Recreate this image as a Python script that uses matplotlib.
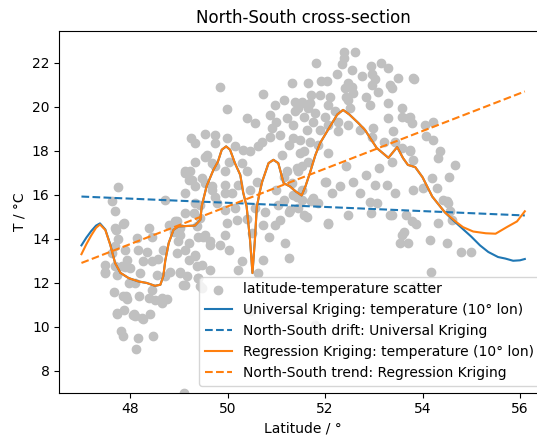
import matplotlib
matplotlib.use("Agg")
import matplotlib.pyplot as plt
import numpy as np

# scatter: (latitude, temperature)
scatter_pts = [
    (47.75, 16.36), (47.62, 15.7), (47.69, 15.27), (47.88, 14.7), (47.71, 14.4),
    (47.76, 13.99), (47.68, 13.65), (47.62, 13.35), (47.49, 12.5), (47.9, 13.5),
    (47.93, 13.05), (47.83, 12.74), (48.0, 12.67), (48.14, 14.03), (48.17, 13.5),
    (48.38, 14.49), (48.45, 14.1), (48.34, 13.42), (48.27, 12.97), (48.45, 12.97),
    (48.58, 13.1), (48.79, 14.64), (48.89, 14.33), (49.03, 14.48), (48.99, 13.88),
    (49.13, 13.5), (48.96, 13.35), (49.2, 13.05), (49.33, 13.2), (49.47, 12.82),
    (49.5, 14.1), (49.64, 13.88), (49.13, 16.99), (49.23, 17.06), (49.2, 16.68),
    (49.33, 16.38), (49.33, 15.62), (49.44, 15.55), (49.3, 15.17), (49.44, 14.94),
    (49.54, 16.53), (49.54, 17.74), (49.68, 17.44), (48.68, 13.5),
    (47.49, 12.44), (47.73, 12.36), (47.97, 11.99), (48.1, 11.99), (48.2, 12.44),
    (48.55, 12.36), (48.72, 12.29), (48.82, 12.51), (49.03, 12.44), (49.16, 12.29),
    (49.13, 11.91), (49.4, 12.21), (49.47, 11.76), (47.66, 11.6), (47.86, 11.38),
    (47.93, 11.26), (48.18, 11.41), (48.38, 11.3), (48.51, 11.2), (48.45, 11.68),
    (48.66, 11.3), (48.75, 11.26), (48.66, 11.08), (47.73, 10.62), (47.88, 10.77),
    (48.07, 10.59), (48.27, 10.35), (48.4, 10.58), (47.81, 9.79), (47.86, 9.59),
    (48.17, 9.49), (48.46, 9.59), (48.12, 8.98), (49.11, 7.0),
    (47.69, 14.5), (47.86, 14.65), (47.49, 12.8), (47.69, 12.75), (47.9, 12.7),
    (47.92, 11.4), (47.73, 10.6), (48.06, 10.55), (48.1, 10.5), (48.24, 10.4),
    (49.85, 20.88), (50.73, 20.58), (51.32, 21.08), (49.98, 19.9), (50.39, 19.49),
    (50.56, 19.26), (50.87, 19.64), (50.97, 20.09), (51.15, 20.32), (51.0, 19.33),
    (51.21, 19.49), (51.35, 19.18), (51.45, 19.94), (51.52, 20.24), (49.25, 18.58),
    (49.33, 18.35), (49.54, 18.76), (49.74, 18.73), (49.74, 18.35), (49.98, 18.58),
    (50.15, 18.2), (50.32, 18.05), (50.46, 17.97), (50.63, 18.2), (50.7, 18.42),
    (50.87, 18.65), (50.91, 19.03), (51.08, 18.73), (51.25, 18.27), (51.35, 18.58),
    (51.49, 17.9), (51.11, 17.82), (49.57, 17.82), (49.33, 17.51), (49.13, 17.06),
    (49.26, 16.68), (49.47, 16.76), (49.74, 17.29), (49.95, 17.06), (50.02, 17.51),
    (50.29, 17.44), (50.39, 17.06), (50.6, 16.6), (50.22, 16.45), (49.95, 16.45),
    (49.68, 16.23), (50.46, 16.23), (51.21, 17.06), (51.42, 17.21), (51.32, 16.53),
    (51.52, 16.23), (49.13, 16.08),
    (52.38, 22.51), (52.62, 22.51), (52.38, 22.21), (51.81, 21.99), (52.34, 21.94),
    (53.15, 21.99), (53.3, 21.76), (52.55, 21.68), (52.94, 21.88), (52.24, 21.49),
    (52.75, 21.38), (52.96, 21.49), (53.03, 21.27), (53.5, 21.3), (53.81, 21.3),
    (51.66, 21.08), (51.92, 21.18), (52.05, 21.18), (52.48, 21.08), (52.41, 20.85),
    (52.55, 20.92), (52.96, 21.0), (53.33, 21.0), (53.37, 20.85), (51.72, 20.55),
    (51.9, 20.55), (52.1, 20.47), (52.44, 20.47), (52.58, 20.62), (52.85, 20.47),
    (53.09, 20.67), (51.38, 20.24), (51.52, 20.17), (51.69, 20.17), (52.07, 20.09),
    (52.48, 20.32), (52.92, 20.09), (53.3, 20.17), (53.57, 19.97), (51.38, 19.79),
    (51.66, 19.94), (51.79, 19.71), (52.0, 19.56), (52.21, 19.79), (52.51, 19.94),
    (51.56, 19.56), (51.76, 19.33), (52.07, 19.18), (52.27, 19.33), (52.48, 19.18),
    (52.72, 18.95), (52.99, 19.03), (53.3, 19.49), (53.57, 19.56), (53.74, 19.56),
    (53.78, 19.26), (53.4, 18.88), (51.62, 18.95), (51.9, 18.95), (52.27, 18.88),
    (51.49, 18.5), (51.69, 18.42), (51.86, 18.27), (52.96, 18.65), (53.2, 18.42),
    (51.56, 17.97), (52.07, 17.9), (53.57, 18.12), (53.74, 17.97),
    (53.83, 21.27), (53.71, 19.49), (54.05, 19.18), (54.22, 19.29), (54.08, 18.68),
    (54.22, 18.5), (54.36, 18.01), (54.32, 17.67), (54.67, 17.36), (54.55, 16.79),
    (54.19, 16.76), (54.29, 16.3), (54.5, 15.73), (53.81, 16.2), (53.74, 18.05),
    (53.81, 17.59), (53.44, 18.42), (53.37, 17.51), (53.11, 17.21), (52.85, 16.91),
    (52.58, 16.6), (52.31, 16.38), (52.02, 16.6), (52.14, 16.08), (52.72, 16.08),
    (53.03, 16.45), (53.27, 16.45), (53.44, 16.08), (52.44, 17.29), (52.92, 15.65),
    (53.06, 15.62), (53.67, 15.09), (53.33, 15.09), (52.48, 15.09), (52.07, 14.71),
    (51.56, 15.09), (51.25, 15.24), (51.72, 15.7), (54.56, 15.27), (54.31, 14.71),
    (51.62, 15.01), (52.07, 14.68), (52.94, 15.17), (53.38, 15.09), (53.78, 14.79),
    (53.86, 14.68), (53.57, 14.18), (53.54, 13.8), (53.71, 13.8), (53.61, 14.33),
    (54.15, 13.95), (54.5, 13.8), (54.78, 13.4), (54.99, 13.4), (54.17, 12.49),
    (54.6, 14.86), (52.0, 16.6), (54.02, 16.3), (54.43, 15.77), (54.53, 15.62),
    (51.76, 15.85), (51.86, 15.62), (51.66, 17.51), (51.52, 17.29), (51.45, 17.06),
    (53.85, 11.9), (54.15, 11.76), (51.79, 10.1), (50.46, 10.7),
    (48.92, 14.79), (49.03, 14.18), (49.2, 13.8), (49.03, 12.51), (49.09, 11.91),
    (49.37, 14.56), (49.4, 14.1), (49.54, 14.18), (49.64, 13.73), (49.33, 13.27),
    (49.37, 12.74), (49.64, 12.59), (49.4, 12.21), (49.44, 11.83), (49.98, 14.71),
    (49.95, 14.18), (50.02, 13.5), (49.85, 13.73), (50.29, 12.97), (50.22, 12.59),
    (50.19, 14.86), (50.5, 14.26), (50.73, 13.05), (50.63, 12.44), (50.84, 14.1),
    (51.18, 13.8), (51.25, 13.12), (50.97, 14.64), (49.95, 15.32), (50.15, 15.39),
    (50.56, 15.39), (50.77, 15.24), (51.04, 15.55), (51.45, 15.39), (49.74, 15.92),
    (49.95, 16.08), (51.35, 16.0), (51.52, 15.77),
    (49.68, 16.4), (50.09, 16.08), (49.78, 15.62), (50.39, 14.9), (50.73, 14.64),
    (51.08, 14.86), (51.28, 15.32), (51.15, 15.77), (51.0, 16.23), (51.42, 15.92),
    (51.15, 16.83), (48.72, 15.77), (48.96, 14.79), (49.13, 15.17),
]
scatter_lat = [p[0] for p in scatter_pts]
scatter_temp = [p[1] for p in scatter_pts]

# Regression Kriging estimate along 10 deg lon
rk_lat = [47.0, 47.1, 47.2, 47.3, 47.38, 47.49, 47.59, 47.69, 47.8, 47.97,
          48.17, 48.34, 48.51, 48.62, 48.68, 48.72, 48.79, 48.89, 48.99, 49.33,
          49.44, 49.47, 49.57, 49.71, 49.8, 49.88, 49.97, 50.05, 50.15, 50.26,
          50.32, 50.39, 50.46, 50.51, 50.56, 50.6, 50.67, 50.71, 50.84, 50.94,
          51.04, 51.15, 51.28, 51.4, 51.52, 51.6, 51.69, 51.8, 51.9, 52.1,
          52.25, 52.37, 52.5, 52.68, 52.82, 52.95, 53.06, 53.3, 53.48, 53.6,
          53.7, 53.85, 54.0, 54.2, 54.46, 54.67, 54.83, 55.04, 55.3, 55.5,
          55.73, 55.94, 56.1]
rk_temp = [13.3, 13.75, 14.15, 14.5, 14.65, 14.4, 13.73, 12.9, 12.45, 12.21,
           12.06, 11.99, 11.86, 11.91, 12.3, 13.0, 13.8, 14.41, 14.56, 14.6,
           14.86, 15.5, 16.4, 17.14, 17.5, 18.05, 18.2, 18.05, 17.44, 16.9,
           16.1, 15.47, 13.95, 12.44, 13.95, 15.47, 16.23, 16.6, 17.44, 17.59,
           17.44, 16.53, 16.38, 16.15, 15.97, 16.4, 17.0, 17.8, 18.36, 19.1,
           19.65, 19.86, 19.65, 19.27, 18.95, 18.5, 18.13, 17.68, 18.17, 17.67,
           17.36, 17.26, 16.8, 15.92, 15.2, 14.8, 14.53, 14.33, 14.25, 14.23,
           14.53, 14.79, 15.25]

# Universal Kriging estimate
uk_lat = [47.0, 47.1, 47.2, 47.3, 47.38, 47.49, 47.59, 47.69, 47.8, 47.97,
          48.17, 48.34, 48.51, 48.62, 48.68, 48.72, 48.79, 48.89, 48.99, 49.33,
          49.44, 49.47, 49.57, 49.71, 49.8, 49.88, 49.97, 50.05, 50.15, 50.26,
          50.32, 50.39, 50.46, 50.51, 50.56, 50.6, 50.67, 50.71, 50.84, 50.94,
          51.04, 51.15, 51.28, 51.4, 51.52, 51.6, 51.69, 51.8, 51.9, 52.1,
          52.25, 52.37, 52.5, 52.68, 52.82, 52.95, 53.06, 53.3, 53.48, 53.6,
          53.7, 53.85, 54.0, 54.2, 54.46, 54.6, 54.77, 55.0, 55.18, 55.35,
          55.55, 55.7, 55.86, 56.0, 56.1]
uk_temp = [13.7, 14.05, 14.35, 14.6, 14.7, 14.42, 13.75, 12.9, 12.45, 12.21,
           12.06, 11.99, 11.86, 11.91, 12.3, 13.0, 13.8, 14.41, 14.56, 14.6,
           14.86, 15.5, 16.4, 17.14, 17.5, 18.05, 18.2, 18.05, 17.44, 16.9,
           16.1, 15.47, 13.95, 12.44, 13.95, 15.47, 16.23, 16.6, 17.44, 17.59,
           17.44, 16.53, 16.38, 16.15, 15.97, 16.4, 17.0, 17.8, 18.36, 19.1,
           19.65, 19.86, 19.65, 19.27, 18.95, 18.5, 18.13, 17.68, 18.17, 17.67,
           17.36, 17.26, 16.8, 15.92, 15.2, 14.9, 14.56, 14.1, 13.7, 13.4,
           13.17, 13.1, 13.0, 13.02, 13.08]

# linear north-south terms
drift_lat = [47.0, 56.1]
drift_temp = [15.92, 15.06]
trend_lat = [47.0, 56.1]
trend_temp = [12.9, 20.7]

fig = plt.figure(figsize=(5.37, 4.37), dpi=100)
# the reference is cut off on the right, so the axes run past the figure edge
ax = fig.add_axes([0.1104, 0.1014, 0.9082, 0.8277])

ax.scatter(scatter_lat, scatter_temp, color='silver',
           label='latitude-temperature scatter')
ax.plot(uk_lat, uk_temp, color='C0',
        label='Universal Kriging: temperature (10° lon)')
ax.plot(drift_lat, drift_temp, '--', color='C0',
        label='North-South drift: Universal Kriging')
ax.plot(rk_lat, rk_temp, color='C1',
        label='Regression Kriging: temperature (10° lon)')
ax.plot(trend_lat, trend_temp, '--', color='C1',
        label='North-South trend: Regression Kriging')

ax.set_xlim(46.545, 56.555)
ax.set_ylim(7.0, 23.45)
ax.set_xticks([48, 50, 52, 54, 56])
ax.set_yticks([8, 10, 12, 14, 16, 18, 20, 22])
ax.set_xlabel('Latitude / °')
ax.set_ylabel('T / °C')
ax.set_title('North-South cross-section')
ax.legend(loc='lower right')

fig.savefig('out.png', dpi=100)
